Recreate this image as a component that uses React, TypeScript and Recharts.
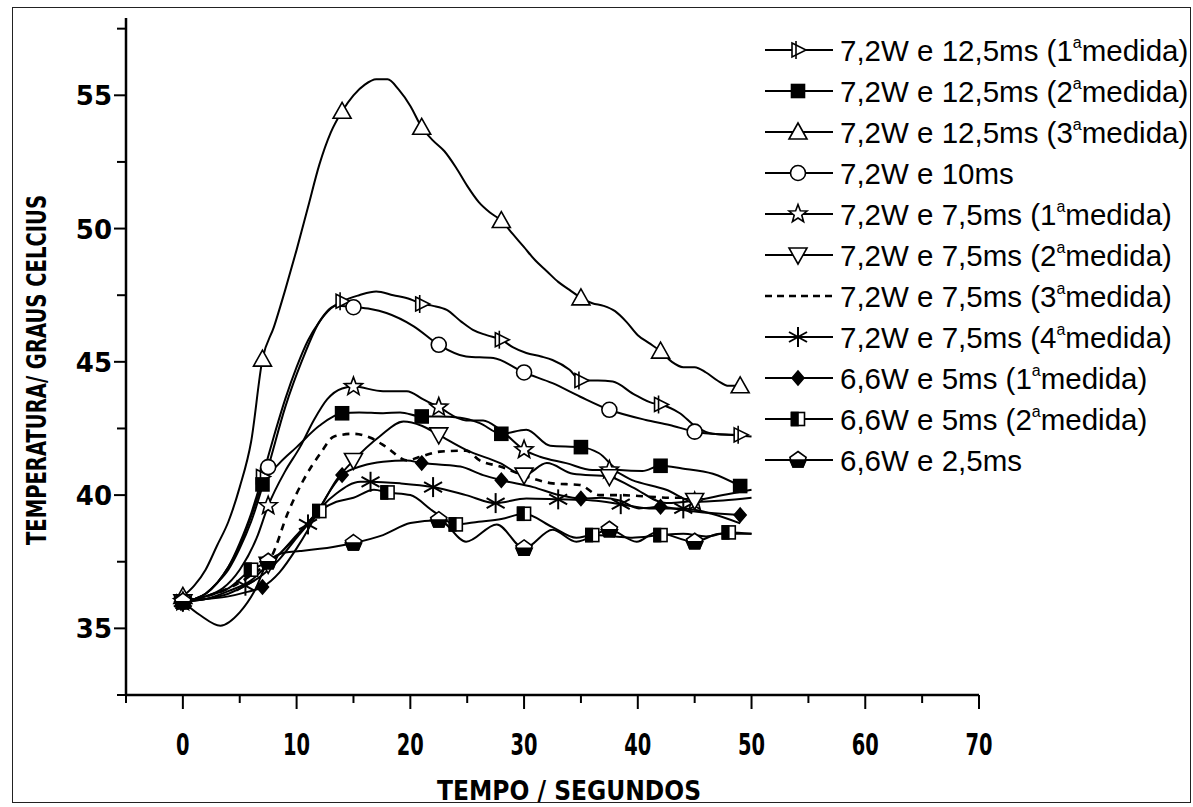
import React from 'react';
import { LineChart, Line, XAxis, YAxis } from 'recharts';

const W = 1193;
const H = 807;
const PLOT_TOP = 18;
const PLOT_RIGHT = 979;
const PLOT_BOTTOM = 695;
const Y_AXIS_W = 126;

// ---- axis ticks ----
const xTicks = [-5, 0, 5, 10, 15, 20, 25, 30, 35, 40, 45, 50, 55, 60, 65, 70];
const yTicks = [32.5, 35, 37.5, 40, 42.5, 45, 47.5, 50, 52.5, 55, 57.5];
const xDomain = [-5, 70];
const yDomain = [32.5, 57.9];

const xTitle = 'TEMPO / SEGUNDOS';
const yTitle = 'TEMPERATURA/ GRAUS CELCIUS';

// ---- series names ----
const seriesNames = [
  '7,2W e 12,5ms (1ªmedida)',
  '7,2W e 12,5ms (2ªmedida)',
  '7,2W e 12,5ms (3ªmedida)',
  '7,2W e 10ms',
  '7,2W e 7,5ms (1ªmedida)',
  '7,2W e 7,5ms (2ªmedida)',
  '7,2W e 7,5ms (3ªmedida)',
  '7,2W e 7,5ms (4ªmedida)',
  '6,6W e 5ms (1ªmedida)',
  '6,6W e 5ms (2ªmedida)',
  '6,6W e 2,5ms',
];

// ---- series values: [tempo (s), temperatura (°C)] ----
const s125m1 = [
  [0, 36.0], [2, 36.3], [3, 36.7], [4, 37.3], [5, 38.2], [6, 39.3], [7, 40.7], [8, 42.2], [9, 43.6],
  [10, 44.8], [11, 45.8], [12, 46.5], [13, 47.0], [14, 47.27], [15.5, 47.5], [17, 47.64], [18.5, 47.5],
  [20, 47.35], [21, 47.17], [22, 47.1], [23.2, 46.95], [24.5, 46.5], [25.5, 46.2], [26.7, 46.0],
  [28, 45.83], [29, 45.55], [30.2, 45.33], [31.5, 45.2], [32.5, 45.07], [34, 44.7], [35, 44.3],
  [36.5, 44.3], [37.8, 44.26], [39.6, 43.8], [41.3, 43.45], [42, 43.4], [43.7, 43.07], [45.1, 42.57],
  [46.6, 42.3], [48, 42.26], [49, 42.26],
];
const s125m2 = [
  [0, 36.0], [2, 36.3], [3, 36.7], [4, 37.3], [5, 38.1], [6, 39.2], [7, 40.4], [8.5, 41.2], [10, 41.8],
  [12, 42.6], [14, 43.07], [15.5, 43.1], [17.6, 43.07], [19.1, 43.1], [21, 42.95], [22.5, 42.95],
  [24.4, 42.9], [26.1, 42.7], [28, 42.3], [30.2, 42.45], [32.3, 41.85], [35, 41.8], [36.6, 41.57],
  [38.4, 40.94], [40.4, 40.9], [42, 41.1], [43.9, 41.0], [46.6, 40.8], [49, 40.34],
];
const s125m3 = [
  [0, 36.2], [1, 36.6], [2, 37.2], [3, 38.1], [4, 39.0], [5, 40.3], [6, 42.0], [7, 45.1], [8, 46.3],
  [9, 47.7], [10, 49.2], [11, 50.8], [12, 52.4], [13, 53.6], [14, 54.4], [15, 55.0], [16, 55.4],
  [17, 55.6], [18, 55.6], [19, 55.2], [20, 54.6], [21, 53.8], [22, 53.3], [23, 52.9], [24, 52.3],
  [25, 51.6], [26, 51.0], [27, 50.6], [28, 50.3], [29, 49.8], [30, 49.3], [31, 48.8], [32, 48.4],
  [33, 48.0], [34, 47.7], [35, 47.4], [36, 47.2], [37, 47.1], [38, 46.9], [39, 46.5], [40, 46.0],
  [41, 45.7], [42, 45.4], [43, 45.0], [44, 44.8], [45, 44.8], [46, 44.6], [47, 44.3], [48, 44.1],
  [49, 44.1],
];
const s10 = [
  [0, 36.0], [2, 36.3], [3, 36.7], [4, 37.2], [5, 38.0], [6, 39.0], [7.5, 41.05], [9, 43.3],
  [10.5, 45.07], [12, 46.5], [13.5, 47.1], [15, 47.05], [16.5, 46.98], [17.9, 46.83], [20.3, 46.33],
  [22.5, 45.64], [24.9, 45.2], [27.3, 45.14], [30, 44.6], [32.5, 44.2], [34.9, 43.7], [37.5, 43.2],
  [40.7, 42.82], [42.8, 42.63], [45, 42.38], [48, 42.26], [50, 42.2],
];
const s75m1 = [
  [0, 36.0], [2, 36.2], [3.5, 36.5], [5, 37.2], [6.5, 38.4], [7.5, 39.6], [9, 40.9], [10.3, 41.8],
  [11.5, 42.8], [12.7, 43.6], [14, 44.0], [15, 44.07], [17.6, 43.9], [19.7, 43.9], [21.1, 43.6],
  [22.5, 43.3], [24.9, 42.8], [26.4, 42.8], [27.9, 42.45], [30, 41.7], [31.4, 41.44], [33.7, 41.2],
  [36, 40.94], [37.5, 40.94], [39.5, 40.56], [42.5, 40.2], [45, 39.75], [47.5, 39.8], [50, 39.9],
];
const s75m2 = [
  [0, 36.0], [2, 36.1], [4, 36.4], [6, 36.8], [7.5, 37.4], [9, 38.0], [10.5, 38.7], [12.1, 39.56],
  [13.5, 40.56], [15, 41.3], [17.3, 42.2], [19.4, 42.76], [21, 42.6], [22.5, 42.26], [24.9, 41.7],
  [27.9, 41.2], [30, 40.75], [32, 41.2], [34.3, 40.8], [37.5, 40.69], [39.5, 40.3], [42.5, 39.7],
  [45, 39.8], [47.5, 40.0], [50, 40.2],
];
const s75m3 = [
  [0, 36.0], [2, 36.2], [4, 36.5], [6, 37.0], [7.8, 37.7], [9.2, 39.3], [10.6, 40.56], [12.1, 41.57],
  [13.3, 42.2], [15, 42.3], [16.5, 42.15], [17.9, 41.8], [19.7, 41.3], [20.6, 41.4], [22.6, 41.63],
  [24.9, 41.67], [26.1, 41.3], [27.9, 41.07], [30.2, 40.7], [32.5, 40.44], [34.9, 40.38], [36.6, 40.0],
  [38.4, 40.0], [41, 39.94], [43, 39.9], [45, 39.9],
];
const s75m4 = [
  [0, 36.0], [2, 36.1], [4, 36.3], [5.5, 36.6], [7, 37.0], [8.5, 37.6], [10, 38.4], [11, 38.9],
  [12.3, 39.6], [13.5, 40.06], [15.6, 40.5], [16.5, 40.5], [19.1, 40.44], [22, 40.3], [24.9, 40.0],
  [27.5, 39.7], [30.2, 39.87], [33, 39.84], [36, 39.8], [38.5, 39.66], [41, 39.5], [44, 39.5],
  [46.5, 39.3], [49, 38.94],
];
const s5m1 = [
  [0, 36.0], [2, 36.1], [4, 36.2], [5.5, 36.35], [7, 36.55], [8.5, 37.1], [10, 38.0], [11, 38.7],
  [12.1, 39.56], [13, 40.2], [14, 40.75], [15.8, 41.1], [17.6, 41.25], [19.7, 41.3], [21, 41.2],
  [22.5, 41.15], [24.4, 41.07], [26.4, 40.75], [28, 40.56], [30.8, 40.3], [33.1, 40.0], [35, 39.87],
  [36.8, 39.9], [38.4, 39.8], [40.1, 39.5], [42, 39.56], [43.8, 39.45], [45.4, 39.37], [47.3, 39.3],
  [49, 39.25],
];
const s5m2 = [
  [0, 36.0], [2, 36.2], [4, 36.5], [6, 37.2], [8, 37.6], [10, 38.5], [12, 39.4], [13.5, 39.75],
  [15, 39.9], [16.8, 40.2], [18, 40.1], [20, 40.0], [22, 39.4], [24, 38.9], [26, 39.0], [28, 39.1],
  [30, 39.3], [32.5, 38.8], [34.6, 38.4], [36, 38.5], [38, 38.45], [39.5, 38.4], [42, 38.5],
  [44, 38.55], [46, 38.45], [48, 38.6], [50, 38.55],
];
const s25 = [
  [0, 36.0], [1.5, 35.5], [3.3, 35.1], [5, 35.6], [6.3, 36.4], [7.5, 37.5], [9, 37.85], [10.3, 37.9],
  [13.2, 38.05], [15, 38.2], [17.6, 38.5], [20, 38.95], [22.5, 39.06], [24.9, 38.25], [27.6, 38.9],
  [30, 38.0], [32.5, 38.7], [34.6, 38.25], [37.5, 38.7], [39.9, 38.25], [41.6, 38.6], [45, 38.25],
  [47.2, 38.55], [50, 38.55],
];

type Kind = 'rtri' | 'sq' | 'tri' | 'circ' | 'star' | 'dtri' | 'none' | 'ast' | 'dia' | 'half' | 'pent';

const seriesValues = [s125m1, s125m2, s125m3, s10, s75m1, s75m2, s75m3, s75m4, s5m1, s5m2, s25];
const seriesKinds: Kind[] = ['rtri', 'sq', 'tri', 'circ', 'star', 'dtri', 'none', 'ast', 'dia', 'half', 'pent'];
const markerEvery = [7, 7, 7, 7.5, 7.5, 7.5, 0, 5.5, 7, 6, 7.5];

const SW = 1.6;

function Marker({ kind, cx, cy }: { kind: Kind; cx: number; cy: number }) {
  const st = { stroke: '#000', strokeWidth: SW };
  switch (kind) {
    case 'rtri':
      return (
        <g>
          <polygon points={`${cx - 6},${cy - 7} ${cx + 8},${cy} ${cx - 6},${cy + 7}`} fill="#fff" {...st} />
          <line x1={cx - 2} x2={cx - 2} y1={cy - 9} y2={cy + 9} {...st} />
        </g>
      );
    case 'sq':
      return <rect x={cx - 6.5} y={cy - 6.5} width={13} height={13} fill="#000" {...st} />;
    case 'tri':
      return <polygon points={`${cx},${cy - 9} ${cx + 9},${cy + 7} ${cx - 9},${cy + 7}`} fill="#fff" {...st} />;
    case 'circ':
      return <circle cx={cx} cy={cy} r={7.5} fill="#fff" {...st} />;
    case 'star': {
      const pts: string[] = [];
      for (let i = 0; i < 10; i++) {
        const r = i % 2 === 0 ? 9.5 : 4;
        const a = -Math.PI / 2 + (i * Math.PI) / 5;
        pts.push(`${cx + r * Math.cos(a)},${cy + r * Math.sin(a)}`);
      }
      return <polygon points={pts.join(' ')} fill="#fff" {...st} />;
    }
    case 'dtri':
      return <polygon points={`${cx - 9},${cy - 7} ${cx + 9},${cy - 7} ${cx},${cy + 9}`} fill="#fff" {...st} />;
    case 'ast':
      return (
        <g {...st} strokeWidth={2}>
          <line x1={cx} x2={cx} y1={cy - 10} y2={cy + 10} />
          <line x1={cx - 9} x2={cx + 9} y1={cy - 5} y2={cy + 5} />
          <line x1={cx - 9} x2={cx + 9} y1={cy + 5} y2={cy - 5} />
        </g>
      );
    case 'dia':
      return <polygon points={`${cx},${cy - 7} ${cx + 6},${cy} ${cx},${cy + 7} ${cx - 6},${cy}`} fill="#000" {...st} />;
    case 'half':
      return (
        <g>
          <rect x={cx - 6.5} y={cy - 6.5} width={13} height={13} fill="#fff" {...st} />
          <rect x={cx - 6.5} y={cy - 6.5} width={6.5} height={13} fill="#000" {...st} />
        </g>
      );
    case 'pent': {
      const pts: string[] = [];
      for (let i = 0; i < 5; i++) {
        const a = -Math.PI / 2 + (i * 2 * Math.PI) / 5;
        pts.push(`${cx + 8.5 * Math.cos(a)},${cy + 8.5 * Math.sin(a)}`);
      }
      return (
        <g>
          <polygon points={pts.join(' ')} fill="#fff" {...st} />
          <polygon
            points={`${cx - 8.1},${cy} ${cx + 8.1},${cy} ${cx + 5},${cy + 6.9} ${cx - 5},${cy + 6.9}`}
            fill="#000"
            {...st}
          />
        </g>
      );
    }
    default:
      return <g />;
  }
}

const makeDot = (kind: Kind, step: number) => (p: any) => {
  const key = `d${p.index}`;
  if (!step || p.cx == null || p.cy == null) return <g key={key} />;
  const k = p.payload.t / step;
  if (Math.abs(k - Math.round(k)) > 1e-6) return <g key={key} />;
  return (
    <g key={key}>
      <Marker kind={kind} cx={p.cx} cy={p.cy} />
    </g>
  );
};

const boldFont = "'DejaVu Sans', sans-serif";

const XTick = (props: any) => {
  const { x, y, payload } = props;
  const v = payload.value;
  const major = Math.abs(v % 10) < 1e-6 && v >= 0;
  const len = String(v).length * 13.5;
  return (
    <g>
      <line x1={x} x2={x} y1={y} y2={y + (major ? 14 : 8)} stroke="#000" strokeWidth={2} />
      {major && (
        <text
          x={x}
          y={y + 60}
          textAnchor="middle"
          fontFamily={boldFont}
          fontWeight="bold"
          fontSize={31}
          textLength={len}
          lengthAdjust="spacingAndGlyphs"
          fill="#000"
        >
          {v}
        </text>
      )}
    </g>
  );
};

const YTick = (props: any) => {
  const { x, y, payload } = props;
  const v = payload.value;
  const major = Math.abs(v % 5) < 1e-6;
  return (
    <g>
      <line x1={x - (major ? 12 : 9)} x2={x} y1={y} y2={y} stroke="#000" strokeWidth={2} />
      {major && (
        <text
          x={x - 14}
          y={y + 10}
          textAnchor="end"
          fontFamily={boldFont}
          fontWeight="bold"
          fontSize={26}
          fill="#000"
        >
          {v}
        </text>
      )}
    </g>
  );
};

function LegendLabel({ x, y, label }: { x: number; y: number; label: string }) {
  const parts = label.split('ª');
  return (
    <text x={x} y={y} fontFamily="'Liberation Sans', Arial, sans-serif" fontSize={29.5} fill="#000">
      {parts[0]}
      {parts.length > 1 && (
        <>
          <tspan fontSize={16} dy={-13}>a</tspan>
          <tspan dy={13}>{parts[1]}</tspan>
        </>
      )}
    </text>
  );
}

export default function App() {
  const legendTop = 50;
  const legendStep = 41;
  return (
    <div style={{ position: 'absolute', left: 0, top: 0, width: W, height: H, background: '#fff' }}>
      <div
        style={{
          position: 'absolute',
          left: 12,
          top: 7,
          width: 1179,
          height: 796,
          border: '1px solid #222',
          boxSizing: 'border-box',
        }}
      />
      <div style={{ position: 'absolute', left: 0, top: 0 }}>
        <LineChart
          width={W}
          height={H}
          margin={{ top: PLOT_TOP, right: W - PLOT_RIGHT, bottom: 0, left: 0 }}
        >
          <XAxis
            type="number"
            dataKey="t"
            domain={xDomain}
            ticks={xTicks}
            allowDataOverflow
            height={H - PLOT_BOTTOM}
            tickLine={false}
            tickSize={0}
            tickMargin={0}
            axisLine={{ stroke: '#000', strokeWidth: 2.5 }}
            tick={<XTick />}
            interval={0}
          />
          <YAxis
            type="number"
            dataKey="v"
            domain={yDomain}
            ticks={yTicks}
            allowDataOverflow
            width={Y_AXIS_W}
            tickLine={false}
            tickSize={0}
            tickMargin={0}
            axisLine={{ stroke: '#000', strokeWidth: 2.5 }}
            tick={<YTick />}
            interval={0}
          />
          {seriesValues.map((vals, i) => (
            <Line
              key={seriesNames[i]}
              name={seriesNames[i]}
              data={vals.map(([t, v]) => ({ t, v }))}
              dataKey="v"
              type="monotone"
              stroke="#000"
              strokeWidth={seriesKinds[i] === 'none' ? 2.6 : 2}
              strokeDasharray={seriesKinds[i] === 'none' ? '7 6' : undefined}
              dot={makeDot(seriesKinds[i], markerEvery[i])}
              activeDot={false}
              isAnimationActive={false}
            />
          ))}
        </LineChart>
      </div>
      <svg
        width={W}
        height={H}
        style={{ position: 'absolute', left: 0, top: 0, pointerEvents: 'none' }}
      >
        <text
          x={0}
          y={0}
          transform={`translate(46, 370) rotate(-90)`}
          textAnchor="middle"
          fontFamily={boldFont}
          fontWeight="bold"
          fontSize={26}
          textLength={350}
          lengthAdjust="spacingAndGlyphs"
          fill="#000"
        >
          {yTitle}
        </text>
        <text
          x={569}
          y={800}
          textAnchor="middle"
          fontFamily={boldFont}
          fontWeight="bold"
          fontSize={27}
          textLength={264}
          lengthAdjust="spacingAndGlyphs"
          fill="#000"
        >
          {xTitle}
        </text>
        {seriesNames.map((name, i) => {
          const cy = legendTop + legendStep * i;
          const dashed = seriesKinds[i] === 'none';
          return (
            <g key={name}>
              <line
                x1={765}
                x2={833}
                y1={cy}
                y2={cy}
                stroke="#000"
                strokeWidth={dashed ? 2.4 : 2}
                strokeDasharray={dashed ? '7 5' : undefined}
              />
              {!dashed && <Marker kind={seriesKinds[i]} cx={798} cy={cy} />}
              <LegendLabel x={840} y={cy + 10.5} label={name} />
            </g>
          );
        })}
      </svg>
    </div>
  );
}
